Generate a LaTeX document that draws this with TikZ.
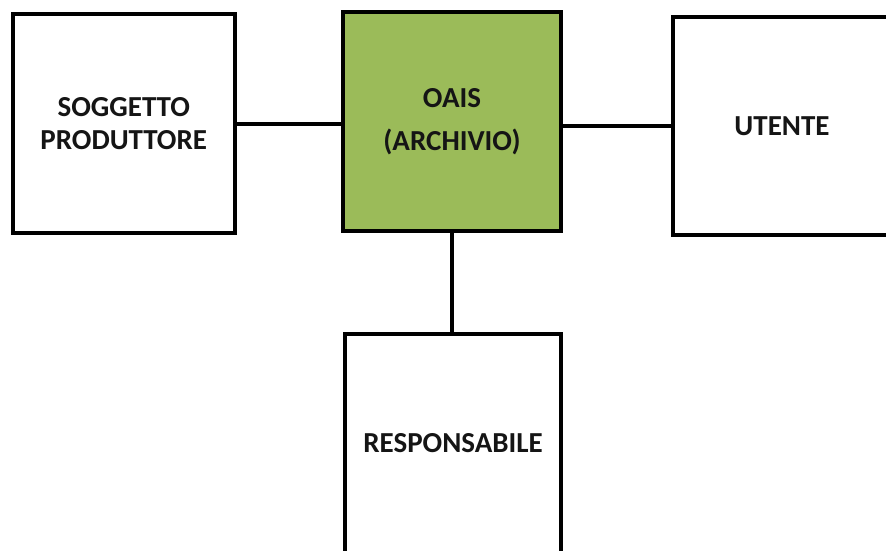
\documentclass[tikz,border=0pt]{standalone}
\usepackage{fontspec}
\setmainfont{Carlito}
\definecolor{oaisgreen}{HTML}{9BBB59}
\definecolor{ink}{HTML}{151515}
\begin{document}
\begin{tikzpicture}[x=1pt,y=-1pt,
  box/.style={draw=black, line width=4pt, fill=white, inner sep=0pt,
    text=ink, align=center, font=\bfseries\fontsize{29}{33}\selectfont},
  link/.style={draw=black, line width=4pt}]
  \clip (0,0) rectangle (886,551);
  \fill[white] (0,0) rectangle (886,551);

  \node[box, minimum width=222.5pt, minimum height=218.5pt] (prod) at (123.75,123.75)
    {SOGGETTO\\PRODUTTORE};
  \node[box, fill=oaisgreen, minimum width=218pt, minimum height=219pt,
    font=\bfseries\fontsize{29}{43}\selectfont] (oais) at (452,121.5)
    {OAIS\\(ARCHIVIO)};
  \node[box, minimum width=218pt, minimum height=218pt] (utente) at (782,126)
    {UTENTE};
  \node[box, minimum width=216pt, minimum height=219pt] (resp) at (453,443.5)
    {RESPONSABILE};

  \draw[link] (prod.east) -- (prod.east -| oais.west);
  \draw[link] (utente.west -| oais.east) -- (utente.west);
  \draw[link] (oais.south) -- (oais.south |- resp.north);
\end{tikzpicture}
\end{document}
